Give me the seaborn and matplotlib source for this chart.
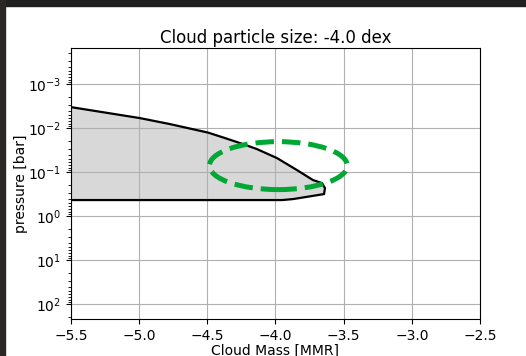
import numpy as np
import pandas as pd
import matplotlib
matplotlib.use("Agg")
import matplotlib.pyplot as plt
from matplotlib.patches import Ellipse, Rectangle
import seaborn as sns

# Cloud profile: log10 mass mixing ratio against pressure
log_pressure = [-2.70, -2.477, -2.227, -2.091, -1.898, -1.773, -1.636, -1.523,
                -1.318, -1.045, -0.818, -0.750, -0.636, -0.500, -0.386,
                -0.364, -0.364]
log_mmr = [-6.00, -5.50, -4.994, -4.774, -4.495, -4.37, -4.238, -4.136,
           -3.989, -3.842, -3.725, -3.659, -3.637, -3.644, -3.872,
           -3.95, -8.00]
x_ticks = [-5.5, -5.0, -4.5, -4.0, -3.5, -3.0, -2.5]
particle_size = -4.0

df = pd.DataFrame({"mmr": log_mmr, "pressure": np.power(10.0, log_pressure)})

fig = plt.figure(figsize=(5.26, 3.56), dpi=100)
ax = fig.add_axes([0.135, 0.104, 0.7775, 0.761])

ax.fill_betweenx(df["pressure"], -8.0, df["mmr"], color="gray", alpha=0.3,
                 linewidth=0)
sns.lineplot(data=df, x="mmr", y="pressure", sort=False, estimator=None,
             color="black", linewidth=1.6, ax=ax)

ax.set_yscale("log")
ax.set_ylim(10 ** 2.34, 10 ** -3.82)
ax.set_xlim(-5.5, -2.5)
ax.set_xticks(x_ticks)
ax.grid(True, which="major", color="#b0b0b0", linewidth=0.8)

# Highlighted region
ax.add_patch(Ellipse((0.507, 0.566), 0.337, 0.177, transform=ax.transAxes,
                     fill=False, edgecolor="#00a833", linewidth=3.6,
                     linestyle="--", zorder=5))

ax.set_xlabel("Cloud Mass [MMR]", labelpad=0.5)
ax.set_ylabel("pressure [bar]", labelpad=0)
ax.set_title(f"Cloud particle size: {particle_size} dex", pad=4)

# Dark window frame along the top and left edges
fig.patches.append(Rectangle((0, 1 - 6 / 356), 1, 6 / 356, transform=fig.transFigure,
                             color="#1f1f1f", zorder=10))
fig.patches.append(Rectangle((0, 0), 5 / 526, 1, transform=fig.transFigure,
                             color="#2a2826", zorder=10))

fig.savefig("out.png", dpi=100)
